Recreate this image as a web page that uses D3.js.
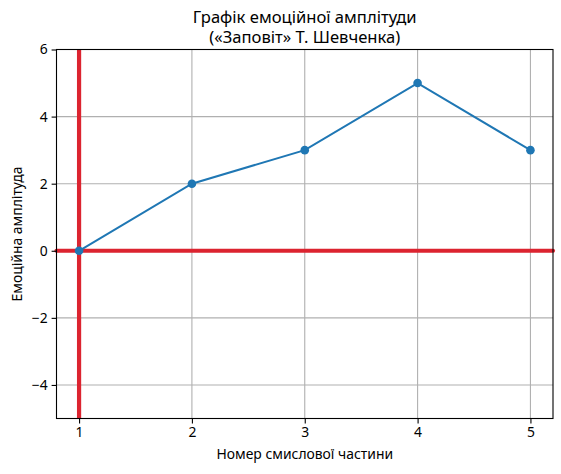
<!DOCTYPE html>
<html>
<head>
<meta charset="utf-8">
<script src="https://cdn.jsdelivr.net/npm/d3@7"></script>
<style>
  body { margin: 0; background: #fff; }
  text { font-family: "Noto Sans", "DejaVu Sans", sans-serif; fill: #000; }
</style>
</head>
<body>
<div id="chart"></div>
<script>
// data
var parts = [1, 2, 3, 4, 5];
var amplitude = [0, 2, 3, 5, 3];
var xTicks = [1, 2, 3, 4, 5];
var yTicks = [-4, -2, 0, 2, 4, 6];
var titleLines = ["Графік емоційної амплітуди", "(«Заповіт» Т. Шевченка)"];

var W = 561, H = 474;
var margin = { top: 49.5, right: 8, bottom: 55.5, left: 56.5 },
    width = W - margin.left - margin.right,
    height = H - margin.top - margin.bottom;

var x = d3.scaleLinear().domain([0.8, 5.2]).range([0, width]);
var y = d3.scaleLinear().domain([-5, 6]).range([height, 0]);

var svg = d3.select("#chart").append("svg")
    .attr("width", W)
    .attr("height", H);

var g = svg.append("g")
    .attr("transform", "translate(" + margin.left + "," + margin.top + ")");

// grid
g.append("g").selectAll("line")
    .data(xTicks).enter().append("line")
    .attr("x1", function (d) { return x(d); })
    .attr("x2", function (d) { return x(d); })
    .attr("y1", 0).attr("y2", height)
    .attr("stroke", "#b0b0b0").attr("stroke-width", 1.1);

g.append("g").selectAll("line")
    .data(yTicks).enter().append("line")
    .attr("y1", function (d) { return y(d); })
    .attr("y2", function (d) { return y(d); })
    .attr("x1", 0).attr("x2", width)
    .attr("stroke", "#b0b0b0").attr("stroke-width", 1.1);

// red reference lines
var red = "#dc2430";
g.append("line")
    .attr("x1", x(1)).attr("x2", x(1))
    .attr("y1", 0).attr("y2", height)
    .attr("stroke", red).attr("stroke-width", 4.2);

g.append("line")
    .attr("x1", 0).attr("x2", width)
    .attr("y1", y(0)).attr("y2", y(0))
    .attr("stroke", red).attr("stroke-width", 4.2)
    .attr("stroke-linecap", "round");

// series
var pts = parts.map(function (p, i) { return { x: p, y: amplitude[i] }; });
var line = d3.line()
    .x(function (d) { return x(d.x); })
    .y(function (d) { return y(d.y); });

g.append("path")
    .datum(pts)
    .attr("d", line)
    .attr("fill", "none")
    .attr("stroke", "#1f77b4")
    .attr("stroke-width", 2);

g.selectAll(".dot")
    .data(pts).enter().append("circle")
    .attr("class", "dot")
    .attr("cx", function (d) { return x(d.x); })
    .attr("cy", function (d) { return y(d.y); })
    .attr("r", 4.3)
    .attr("fill", "#1f77b4");

// axes
var fmt = function (d) { return d < 0 ? "\u2212" + Math.abs(d) : String(d); };

var xAxis = g.append("g")
    .attr("transform", "translate(0," + height + ")")
    .call(d3.axisBottom(x).tickValues(xTicks).tickSize(4.9).tickPadding(4).tickFormat(fmt));

var yAxis = g.append("g")
    .call(d3.axisLeft(y).tickValues(yTicks).tickSize(4.9).tickPadding(4).tickFormat(fmt));

[xAxis, yAxis].forEach(function (a) {
    a.select(".domain").remove();
    a.selectAll("line").attr("stroke", "#000").attr("stroke-width", 1.1);
    a.selectAll("text").style("font-size", "13.9px").attr("font-family", null);
});

// frame
g.append("rect")
    .attr("width", width).attr("height", height)
    .attr("fill", "none").attr("stroke", "#000").attr("stroke-width", 1.1);

// labels
svg.append("text")
    .attr("x", margin.left + width / 2)
    .attr("y", 459)
    .attr("text-anchor", "middle")
    .style("font-size", "13.9px")
    .text("Номер смислової частини");

svg.append("text")
    .attr("transform", "translate(22," + (margin.top + height / 2) + ") rotate(-90)")
    .attr("text-anchor", "middle")
    .style("font-size", "13.9px")
    .text("Емоційна амплітуда");

svg.append("g").selectAll("text")
    .data(titleLines).enter().append("text")
    .attr("x", margin.left + width / 2)
    .attr("y", function (d, i) { return 23 + i * 19.5; })
    .attr("text-anchor", "middle")
    .style("font-size", "16.6px")
    .text(function (d) { return d; });
</script>
</body>
</html>
